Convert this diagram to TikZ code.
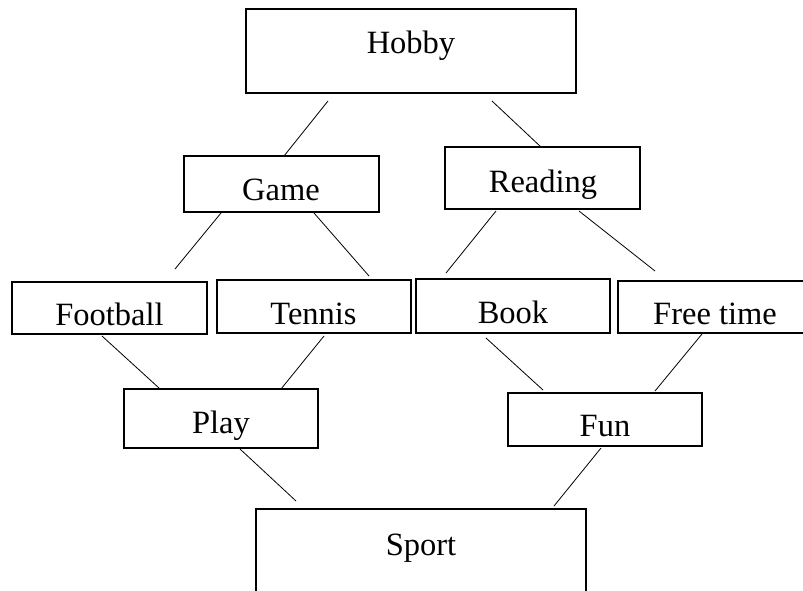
\documentclass[tikz,border=0pt]{standalone}
\usepackage{fontspec}
\setmainfont{Liberation Serif}
\begin{document}
\begin{tikzpicture}[x=1pt,y=-1pt,
  box/.style={draw=black,line width=1.1pt,rectangle,inner sep=0pt},
  bigbox/.style={draw=black,line width=2.4pt,rectangle,inner sep=0pt},
  lbl/.style={anchor=base,inner sep=0pt,font=\fontsize{32.5}{38}\selectfont},
  conn/.style={draw=black,line width=0.8pt}]
\clip (0,0) rectangle (803,590);
\fill[white] (0,0) rectangle (803,590);
% boxes
\node[bigbox,minimum width=330,minimum height=84] (hobby) at (411,51) {};
\node[box,minimum width=195,minimum height=56] (game) at (281.5,184) {};
\node[box,minimum width=195,minimum height=62] (reading) at (542.5,178) {};
\node[box,minimum width=195,minimum height=52] (football) at (109.5,308) {};
\node[box,minimum width=194,minimum height=53] (tennis) at (314,306.5) {};
\node[box,minimum width=194,minimum height=54] (book) at (513,306) {};
\node[box,minimum width=194,minimum height=52] (freetime) at (715,307) {};
\node[box,minimum width=194,minimum height=59] (play) at (221,418.5) {};
\node[box,minimum width=194,minimum height=53] (fun) at (605,419.5) {};
\node[bigbox,minimum width=330,minimum height=84] (sport) at (421,551) {};
% labels
\node[lbl] (hobbyt) at (411,53) {Hobby};
\node[lbl] (gamet) at (281,200) {Game};
\node[lbl] (readingt) at (543,192) {Reading};
\node[lbl] (footballt) at (109.5,325) {Football};
\node[lbl] (tennist) at (313.5,324) {Tennis};
\node[lbl] (bookt) at (513,323) {Book};
\node[lbl] (freetimet) at (715,324) {Free time};
\node[lbl] (playt) at (221,433) {Play};
\node[lbl] (funt) at (605,436) {Fun};
\node[lbl] (sportt) at (421,555) {Sport};
% connector ends
\coordinate (hg1) at (328,101); \coordinate (hg2) at (284,156);
\coordinate (hr1) at (492,101); \coordinate (hr2) at (541,147);
\coordinate (gf1) at (221,213); \coordinate (gf2) at (175,269);
\coordinate (gt1) at (314,213); \coordinate (gt2) at (369,276);
\coordinate (rb1) at (496,211); \coordinate (rb2) at (446,273);
\coordinate (rf1) at (579,211); \coordinate (rf2) at (655,271);
\coordinate (fp1) at (102,336); \coordinate (fp2) at (159,388);
\coordinate (tp1) at (324,336); \coordinate (tp2) at (281,389);
\coordinate (bf1) at (486,338); \coordinate (bf2) at (543,390);
\coordinate (ff1) at (702,334); \coordinate (ff2) at (655,391);
\coordinate (ps1) at (240,449); \coordinate (ps2) at (296,501);
\coordinate (fs1) at (601,448); \coordinate (fs2) at (554,506);
\draw[conn] (hg1) -- (hg2);
\draw[conn] (hr1) -- (hr2);
\draw[conn] (gf1) -- (gf2);
\draw[conn] (gt1) -- (gt2);
\draw[conn] (rb1) -- (rb2);
\draw[conn] (rf1) -- (rf2);
\draw[conn] (fp1) -- (fp2);
\draw[conn] (tp1) -- (tp2);
\draw[conn] (bf1) -- (bf2);
\draw[conn] (ff1) -- (ff2);
\draw[conn] (ps1) -- (ps2);
\draw[conn] (fs1) -- (fs2);
\end{tikzpicture}
\end{document}
